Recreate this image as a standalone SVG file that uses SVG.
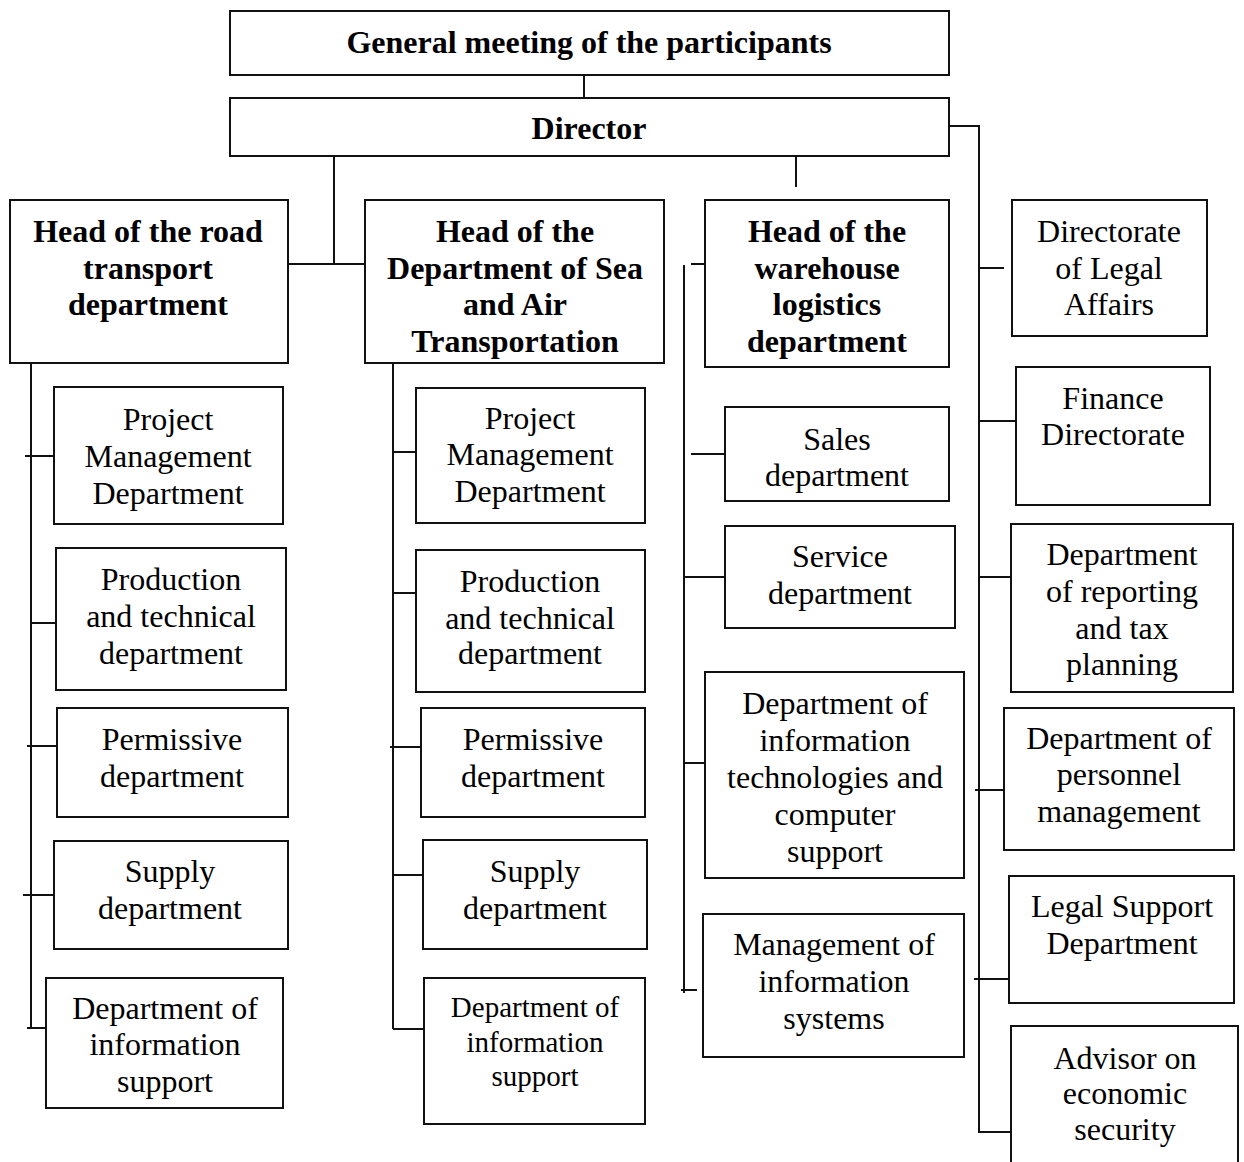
<svg xmlns="http://www.w3.org/2000/svg" width="1244" height="1162" viewBox="0 0 1244 1162">
  <style>
    .box { fill: #fff; stroke: #111; stroke-width: 2; }
    .ln { fill: none; stroke: #111; stroke-width: 2; }
    text { font-family: "Liberation Serif", "Times New Roman", serif; font-size: 32px; fill: #000; text-anchor: middle; transform: translateY(1.5px); }
    .b { font-weight: bold; }
    .s { font-size: 29px; }
  </style>
  <rect width="1244" height="1162" fill="#fff"/>

  <!-- connectors -->
  <g id="connectors" class="ln">
    <path d="M584 75 V98"/>
    <!-- Director to the two transport heads -->
    <path d="M334 156 V264"/>
    <path d="M288 264 H365"/>
    <!-- Director stub towards warehouse -->
    <path d="M796 156 V187"/>
    <!-- Director to right-hand directorates -->
    <path d="M949 126 H979 V1133"/>
    <path d="M979 268 H1004"/>
    <path d="M979 421 H1016"/>
    <path d="M979 577 H1011"/>
    <path d="M975 790 H1004"/>
    <path d="M974 979 H1009"/>
    <path d="M979 1132 H1011"/>
    <!-- road transport branch -->
    <path d="M31 363 V1028"/>
    <path d="M25 456 H54"/>
    <path d="M32 623 H56"/>
    <path d="M27 746 H57"/>
    <path d="M23 895 H54"/>
    <path d="M27 1028 H46"/>
    <!-- sea and air branch -->
    <path d="M393 363 V1029"/>
    <path d="M393 452 H416"/>
    <path d="M393 593 H416"/>
    <path d="M390 747 H421"/>
    <path d="M393 875 H423"/>
    <path d="M393 1029 H424"/>
    <!-- warehouse branch -->
    <path d="M691 264 H705"/>
    <path d="M684 265 V993"/>
    <path d="M691 454 H725"/>
    <path d="M684 577 H725"/>
    <path d="M684 763 H705"/>
    <path d="M681 990 H697"/>
  </g>

  <!-- top level -->
  <g id="general-meeting">
    <rect class="box" x="230" y="11" width="719" height="64"/>
    <text class="b" x="589" y="51">General meeting of the participants</text>
  </g>
  <g id="director">
    <rect class="box" x="230" y="98" width="719" height="58"/>
    <text class="b" x="589" y="137">Director</text>
  </g>

  <!-- heads of departments -->
  <g id="head-road">
    <rect class="box" x="10" y="200" width="278" height="163"/>
    <text class="b" x="148" y="240">Head of the road</text>
    <text class="b" x="148" y="277">transport</text>
    <text class="b" x="148" y="313">department</text>
  </g>
  <g id="head-sea-air">
    <rect class="box" x="365" y="200" width="299" height="163"/>
    <text class="b" x="515" y="240">Head of the</text>
    <text class="b" x="515" y="277">Department of Sea</text>
    <text class="b" x="515" y="313">and Air</text>
    <text class="b" x="515" y="350">Transportation</text>
  </g>
  <g id="head-warehouse">
    <rect class="box" x="705" y="200" width="244" height="167"/>
    <text class="b" x="827" y="240">Head of the</text>
    <text class="b" x="827" y="277">warehouse</text>
    <text class="b" x="827" y="313">logistics</text>
    <text class="b" x="827" y="350">department</text>
  </g>

  <!-- road transport units -->
  <g id="road-project">
    <rect class="box" x="54" y="387" width="229" height="137"/>
    <text x="168" y="428">Project</text>
    <text x="168" y="465">Management</text>
    <text x="168" y="502">Department</text>
  </g>
  <g id="road-production">
    <rect class="box" x="56" y="548" width="230" height="142"/>
    <text x="171" y="588">Production</text>
    <text x="171" y="625">and technical</text>
    <text x="171" y="662">department</text>
  </g>
  <g id="road-permissive">
    <rect class="box" x="57" y="708" width="231" height="109"/>
    <text x="172" y="748">Permissive</text>
    <text x="172" y="785">department</text>
  </g>
  <g id="road-supply">
    <rect class="box" x="54" y="841" width="234" height="108"/>
    <text x="170" y="880">Supply</text>
    <text x="170" y="917">department</text>
  </g>
  <g id="road-info-support">
    <rect class="box" x="46" y="978" width="237" height="130"/>
    <text x="165" y="1017">Department of</text>
    <text x="165" y="1053">information</text>
    <text x="165" y="1090">support</text>
  </g>

  <!-- sea and air units -->
  <g id="sea-project">
    <rect class="box" x="416" y="388" width="229" height="135"/>
    <text x="530" y="427">Project</text>
    <text x="530" y="463">Management</text>
    <text x="530" y="500">Department</text>
  </g>
  <g id="sea-production">
    <rect class="box" x="416" y="550" width="229" height="142"/>
    <text x="530" y="590">Production</text>
    <text x="530" y="627">and technical</text>
    <text x="530" y="662">department</text>
  </g>
  <g id="sea-permissive">
    <rect class="box" x="421" y="708" width="224" height="109"/>
    <text x="533" y="748">Permissive</text>
    <text x="533" y="785">department</text>
  </g>
  <g id="sea-supply">
    <rect class="box" x="423" y="840" width="224" height="109"/>
    <text x="535" y="880">Supply</text>
    <text x="535" y="917">department</text>
  </g>
  <g id="sea-info-support">
    <rect class="box" x="424" y="978" width="221" height="146"/>
    <text class="s" x="535" y="1015">Department of</text>
    <text class="s" x="535" y="1050">information</text>
    <text class="s" x="535" y="1084">support</text>
  </g>

  <!-- warehouse units -->
  <g id="wh-sales">
    <rect class="box" x="725" y="407" width="224" height="94"/>
    <text x="837" y="448">Sales</text>
    <text x="837" y="484">department</text>
  </g>
  <g id="wh-service">
    <rect class="box" x="725" y="526" width="230" height="102"/>
    <text x="840" y="565">Service</text>
    <text x="840" y="602">department</text>
  </g>
  <g id="wh-it">
    <rect class="box" x="705" y="672" width="259" height="206"/>
    <text x="835" y="712">Department of</text>
    <text x="835" y="749">information</text>
    <text x="835" y="786">technologies and</text>
    <text x="835" y="823">computer</text>
    <text x="835" y="860">support</text>
  </g>
  <g id="wh-mis">
    <rect class="box" x="703" y="914" width="261" height="143"/>
    <text x="834" y="953">Management of</text>
    <text x="834" y="990">information</text>
    <text x="834" y="1027">systems</text>
  </g>

  <!-- directorates reporting to the director -->
  <g id="legal-affairs">
    <rect class="box" x="1012" y="200" width="195" height="136"/>
    <text x="1109" y="240">Directorate</text>
    <text x="1109" y="277">of Legal</text>
    <text x="1109" y="313">Affairs</text>
  </g>
  <g id="finance">
    <rect class="box" x="1016" y="367" width="194" height="138"/>
    <text x="1113" y="407">Finance</text>
    <text x="1113" y="443">Directorate</text>
  </g>
  <g id="reporting-tax">
    <rect class="box" x="1011" y="524" width="222" height="168"/>
    <text x="1122" y="563">Department</text>
    <text x="1122" y="600">of reporting</text>
    <text x="1122" y="637">and tax</text>
    <text x="1122" y="673">planning</text>
  </g>
  <g id="personnel">
    <rect class="box" x="1004" y="708" width="230" height="142"/>
    <text x="1119" y="747">Department of</text>
    <text x="1119" y="783">personnel</text>
    <text x="1119" y="820">management</text>
  </g>
  <g id="legal-support">
    <rect class="box" x="1009" y="876" width="225" height="127"/>
    <text x="1122" y="915">Legal Support</text>
    <text x="1122" y="952">Department</text>
  </g>
  <g id="economic-security">
    <rect class="box" x="1011" y="1026" width="227" height="150"/>
    <text x="1125" y="1067">Advisor on</text>
    <text x="1125" y="1102">economic</text>
    <text x="1125" y="1138">security</text>
  </g>
</svg>
